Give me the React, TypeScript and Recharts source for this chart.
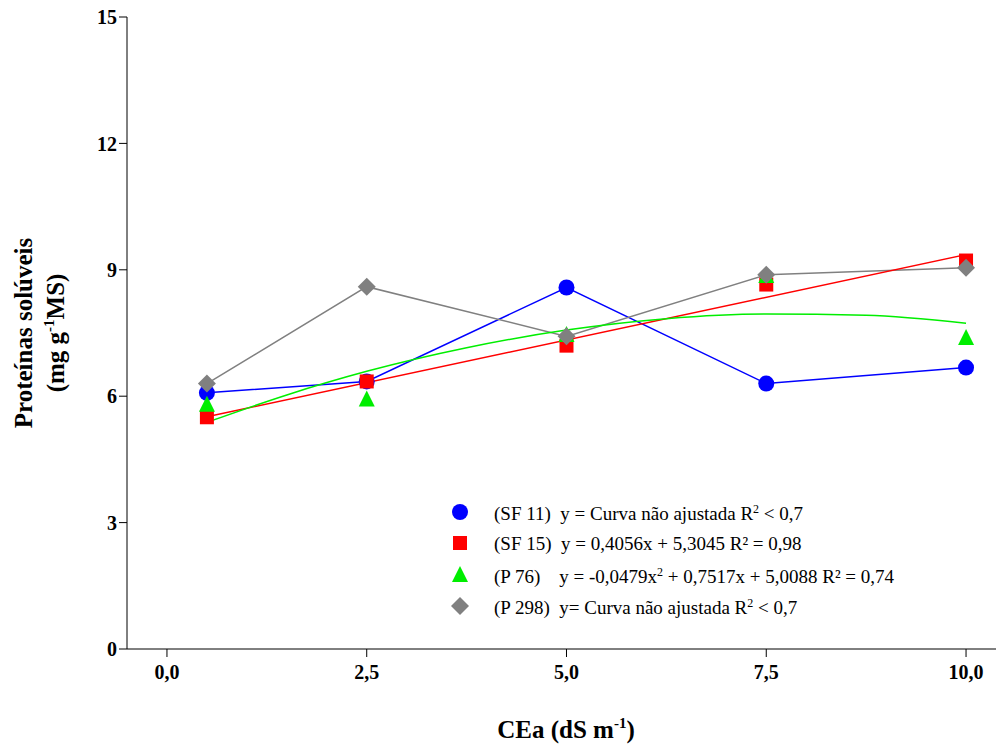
import { ComposedChart, Line, Scatter, XAxis, YAxis, Label } from 'recharts';

const xCats = [0.5, 2.5, 5, 7.5, 10];
const sf11 = [6.08, 6.35, 8.58, 6.3, 6.68];
const sf15 = [5.5, 6.35, 7.2, 8.65, 9.22];
const p76 = [5.8, 5.92, 7.45, 8.85, 7.38];
const p298 = [6.3, 8.6, 7.42, 8.88, 9.05];
const sf15FitX = [0.5, 10];
const sf15FitY = [5.51, 9.36];
const p76FitX = [0.5, 1.5, 2.5, 3.75, 5, 6.25, 7.5, 8.75, 10];
const p76FitY = [5.38, 6.03, 6.59, 7.15, 7.57, 7.84, 7.95, 7.92, 7.73];
const xTicks = [0, 2.5, 5, 7.5, 10];
const yTicks = [0, 3, 6, 9, 12, 15];

const zip = (xs: number[], ys: number[]) => xs.map((x, i) => ({ x, y: ys[i] }));

const FONT = "'Liberation Serif', serif";
const BLUE = '#0000ff', RED = '#ff0000', GREEN = '#00ee00', GRAY = '#808080';

const Circle = (p: any) => <circle cx={p.cx} cy={p.cy} r={8} fill={BLUE} />;
const Square = (p: any) => <rect x={p.cx - 7} y={p.cy - 7} width={14} height={14} fill={RED} />;
const Tri = (p: any) => <polygon points={`${p.cx},${p.cy - 9} ${p.cx - 8},${p.cy + 7} ${p.cx + 8},${p.cy + 7}`} fill={GREEN} />;
const Diam = (p: any) => <polygon points={`${p.cx},${p.cy - 9} ${p.cx + 9},${p.cy} ${p.cx},${p.cy + 9} ${p.cx - 9},${p.cy}`} fill={GRAY} />;

const sup = (t: string) => <sup style={{ fontSize: 12 }}>{t}</sup>;
const legend = [
  { shape: 'c', text: <>(SF 11)&nbsp; y = Curva não ajustada R{sup('2')} &lt; 0,7</> },
  { shape: 's', text: <>(SF 15)&nbsp; y = 0,4056x + 5,3045 R² = 0,98</> },
  { shape: 't', text: <>(P 76)&nbsp;&nbsp;&nbsp; y = -0,0479x{sup('2')} + 0,7517x + 5,0088 R² = 0,74</> },
  { shape: 'd', text: <>(P 298)&nbsp; y= Curva não ajustada R{sup('2')} &lt; 0,7</> },
];

const icon = (s: string) => {
  const p = { cx: 12, cy: 12 };
  return (
    <svg width={24} height={24} style={{ marginRight: 22 }}>
      {s === 'c' ? Circle(p) : s === 's' ? Square(p) : s === 't' ? Tri(p) : Diam(p)}
    </svg>
  );
};

export default function App() {
  return (
    <div style={{ position: 'absolute', left: 0, top: 0, width: 996, height: 751, background: '#fff', fontFamily: FONT }}>
      <style>{`.recharts-wrapper text, .recharts-wrapper tspan { font-family: 'Liberation Serif', serif !important; }`}</style>
      <ComposedChart width={996} height={751} margin={{ top: 17, right: 0, left: 0, bottom: 0 }}>
        <XAxis
          type="number" dataKey="x" domain={[-0.5, 10.375]} ticks={xTicks} allowDataOverflow
          tickFormatter={(v: number) => v.toFixed(1).replace('.', ',')}
          height={102} stroke="#000" tickSize={8}
          tick={{ fill: '#000', fontSize: 20, fontWeight: 'bold', fontFamily: FONT, dy: 6 }}
        >
          <Label content={() => (
            <text x={566} y={738} textAnchor="middle" fontFamily={FONT} fontSize={25} fontWeight="bold">
              CEa (dS m<tspan dy={-10} fontSize={15}>-1</tspan><tspan dy={10}>)</tspan>
            </text>
          )} />
        </XAxis>
        <YAxis
          type="number" dataKey="y" domain={[0, 15]} ticks={yTicks} width={127}
          stroke="#000" tickSize={8}
          tick={{ fill: '#000', fontSize: 20, fontWeight: 'bold', fontFamily: FONT }}
        >
          <Label content={() => (
            <g transform="translate(32,333) rotate(-90)">
              <text x={0} y={0} textAnchor="middle" fontFamily={FONT} fontSize={25} fontWeight="bold">Proteínas solúveis</text>
              <text x={0} y={32} textAnchor="middle" fontFamily={FONT} fontSize={25} fontWeight="bold">
                (mg g<tspan dy={-10} fontSize={15}>-1</tspan><tspan dy={10}>MS)</tspan>
              </text>
            </g>
          )} />
        </YAxis>
        <Line data={zip(xCats, sf11)} dataKey="y" stroke={BLUE} strokeWidth={1.5} dot={false} isAnimationActive={false} />
        <Line data={zip(xCats, p298)} dataKey="y" stroke={GRAY} strokeWidth={1.5} dot={false} isAnimationActive={false} />
        <Line data={zip(sf15FitX, sf15FitY)} dataKey="y" stroke={RED} strokeWidth={1.5} dot={false} isAnimationActive={false} />
        <Line data={zip(p76FitX, p76FitY)} type="monotone" dataKey="y" stroke={GREEN} strokeWidth={1.5} dot={false} isAnimationActive={false} />
        <Scatter data={zip(xCats, sf11)} shape={Circle} isAnimationActive={false} />
        <Scatter data={zip(xCats, sf15)} shape={Square} isAnimationActive={false} />
        <Scatter data={zip(xCats, p76)} shape={Tri} isAnimationActive={false} />
        <Scatter data={zip(xCats, p298)} shape={Diam} isAnimationActive={false} />
      </ComposedChart>
      <div style={{ position: 'absolute', left: 448, top: 496, fontSize: 19, lineHeight: '31.5px' }}>
        {legend.map((l, i) => (
          <div key={i} style={{ display: 'flex', alignItems: 'center', height: 31.5 }}>
            {icon(l.shape)}<span>{l.text}</span>
          </div>
        ))}
      </div>
    </div>
  );
}
